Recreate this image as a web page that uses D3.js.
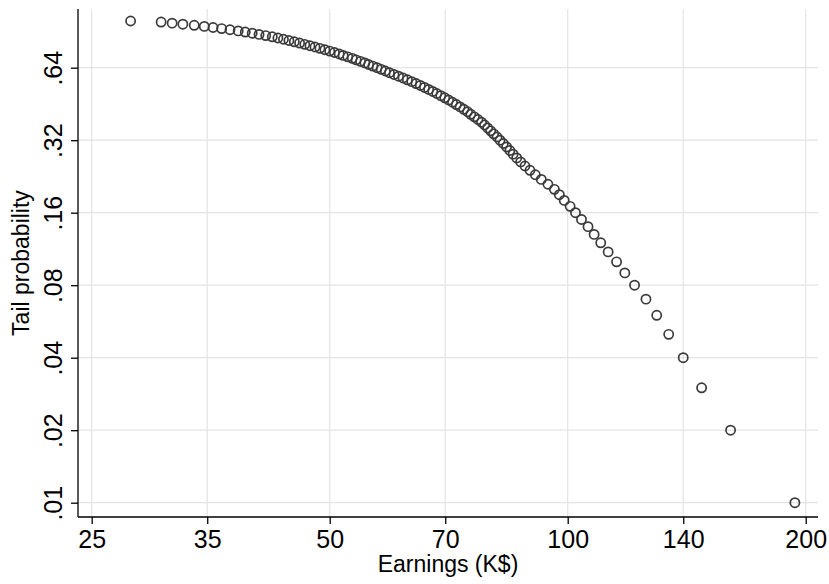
<!DOCTYPE html>
<html>
<head>
<meta charset="utf-8">
<script src="https://cdn.jsdelivr.net/npm/d3@7"></script>
<style>
  html, body { margin: 0; padding: 0; background: #ffffff; }
  svg { display: block; }
  text { font-family: "Liberation Sans", Arial, Helvetica, sans-serif; fill: #000; }
</style>
</head>
<body>
<svg id="chart" width="829" height="584"></svg>
<script>
// ---- data ----
const xTicks = [25, 35, 50, 70, 100, 140, 200];
const xTickLabels = ["25", "35", "50", "70", "100", "140", "200"];
const yTicks = [0.01, 0.02, 0.04, 0.08, 0.16, 0.32, 0.64];
const yTickLabels = [".01", ".02", ".04", ".08", ".16", ".32", ".64"];

const tailProb = [
  1.00, 0.99, 0.98, 0.97, 0.96, 0.95, 0.94, 0.93, 0.92, 0.91,
  0.90, 0.89, 0.88, 0.87, 0.86, 0.85, 0.84, 0.83, 0.82, 0.81,
  0.80, 0.79, 0.78, 0.77, 0.76, 0.75, 0.74, 0.73, 0.72, 0.71,
  0.70, 0.69, 0.68, 0.67, 0.66, 0.65, 0.64, 0.63, 0.62, 0.61,
  0.60, 0.59, 0.58, 0.57, 0.56, 0.55, 0.54, 0.53, 0.52, 0.51,
  0.50, 0.49, 0.48, 0.47, 0.46, 0.45, 0.44, 0.43, 0.42, 0.41,
  0.40, 0.39, 0.38, 0.37, 0.36, 0.35, 0.34, 0.33, 0.32, 0.31,
  0.30, 0.29, 0.28, 0.27, 0.26, 0.25, 0.24, 0.23, 0.22, 0.21,
  0.20, 0.19, 0.18, 0.17, 0.16, 0.15, 0.14, 0.13, 0.12, 0.11,
  0.10, 0.09, 0.08, 0.07, 0.06, 0.05, 0.04, 0.03, 0.02, 0.01
];

const earnings = [
  28.0, 30.6, 31.6, 32.6, 33.7, 34.7, 35.6, 36.5, 37.4, 38.3,
  39.1, 39.9, 40.7, 41.5, 42.3, 43.0, 43.7, 44.4, 45.1, 45.8,
  46.5, 47.2, 47.9, 48.6, 49.3, 50.0, 50.7, 51.4, 52.0, 52.7,
  53.4, 54.0, 54.7, 55.4, 56.0, 56.7, 57.4, 58.1, 58.8, 59.5,
  60.3, 61.1, 61.9, 62.7, 63.5, 64.3, 65.1, 65.9, 66.7, 67.5,
  68.3, 69.1, 69.9, 70.7, 71.5, 72.3, 73.1, 73.9, 74.7, 75.4,
  76.2, 77.0, 77.8, 78.5, 79.2, 79.9, 80.6, 81.4, 82.1, 82.9,
  83.7, 84.5, 85.3, 86.2, 87.2, 88.3, 89.6, 91.0, 92.6, 94.4,
  96.2, 97.6, 99.0, 100.7, 102.3, 104.1, 106.1, 108.0, 110.1, 112.5,
  115.3, 118.1, 121.5, 125.6, 129.6, 134.2, 140.0, 147.7, 160.7, 193.8
];

// ---- layout ----
const W = 829, H = 584;
const box = { left: 78, right: 818, top: 9, bottom: 517 };
const axisColor = "#000000";
const gridColor = "#e4e4e4";
const markerColor = "#3a3a3a";

const svg = d3.select("#chart");
svg.append("rect").attr("width", W).attr("height", H).attr("fill", "#ffffff");

const x = d3.scaleLog().domain([25, 200]).range([91.7, 805.7]);
const y = d3.scaleLog().domain([0.01, 0.64]).range([502.7, 67.7]);

// grid
const grid = svg.append("g");
grid.selectAll("line.vx").data(xTicks).join("line")
  .attr("x1", d => x(d)).attr("x2", d => x(d))
  .attr("y1", box.top).attr("y2", box.bottom)
  .attr("stroke", gridColor).attr("stroke-width", 1.2);
grid.selectAll("line.hy").data(yTicks).join("line")
  .attr("x1", box.left).attr("x2", box.right)
  .attr("y1", d => y(d)).attr("y2", d => y(d))
  .attr("stroke", gridColor).attr("stroke-width", 1.2);

// x axis
const xAxis = d3.axisBottom(x)
  .tickValues(xTicks)
  .tickFormat((d, i) => xTickLabels[i])
  .tickSize(7)
  .tickSizeOuter(0)
  .tickPadding(6);
const gx = svg.append("g").attr("transform", `translate(0,${box.bottom})`).call(xAxis);
gx.select(".domain").remove();
gx.selectAll(".tick line").attr("stroke", axisColor).attr("stroke-width", 1.3);
gx.selectAll(".tick text")
  .attr("fill", "#000")
  .style("font-size", "25px")
  .style("font-family", "'Liberation Sans', Arial, Helvetica, sans-serif");

// y axis
const yAxis = d3.axisLeft(y)
  .tickValues(yTicks)
  .tickFormat((d, i) => yTickLabels[i])
  .tickSize(7)
  .tickSizeOuter(0);
const gy = svg.append("g").attr("transform", `translate(${box.left},0)`).call(yAxis);
gy.select(".domain").remove();
gy.selectAll(".tick line").attr("stroke", axisColor).attr("stroke-width", 1.3);
gy.selectAll(".tick text")
  .attr("x", 0).attr("y", 0).attr("dy", null)
  .attr("text-anchor", "middle")
  .attr("transform", "translate(-16,0) rotate(-90)")
  .attr("fill", "#000")
  .style("font-size", "25px")
  .style("font-family", "'Liberation Sans', Arial, Helvetica, sans-serif");

// axis lines
svg.append("line").attr("x1", box.left).attr("x2", box.right)
  .attr("y1", box.bottom).attr("y2", box.bottom)
  .attr("stroke", axisColor).attr("stroke-width", 1.3);
svg.append("line").attr("x1", box.left).attr("x2", box.left)
  .attr("y1", box.top).attr("y2", box.bottom)
  .attr("stroke", axisColor).attr("stroke-width", 1.3);

// axis titles
svg.append("text")
  .attr("x", (box.left + box.right) / 2).attr("y", 572)
  .attr("text-anchor", "middle")
  .style("font-size", "23px")
  .text("Earnings (K$)");
svg.append("text")
  .attr("transform", `translate(29,${(box.top + box.bottom) / 2}) rotate(-90)`)
  .attr("text-anchor", "middle")
  .style("font-size", "23px")
  .text("Tail probability");

// points
const pts = earnings.map((e, i) => ({ e, p: tailProb[i] }));
svg.append("g").selectAll("circle").data(pts).join("circle")
  .attr("cx", d => x(d.e))
  .attr("cy", d => y(d.p))
  .attr("r", 4.6)
  .attr("fill", "none")
  .attr("stroke", markerColor)
  .attr("stroke-width", 1.7);
</script>
</body>
</html>
